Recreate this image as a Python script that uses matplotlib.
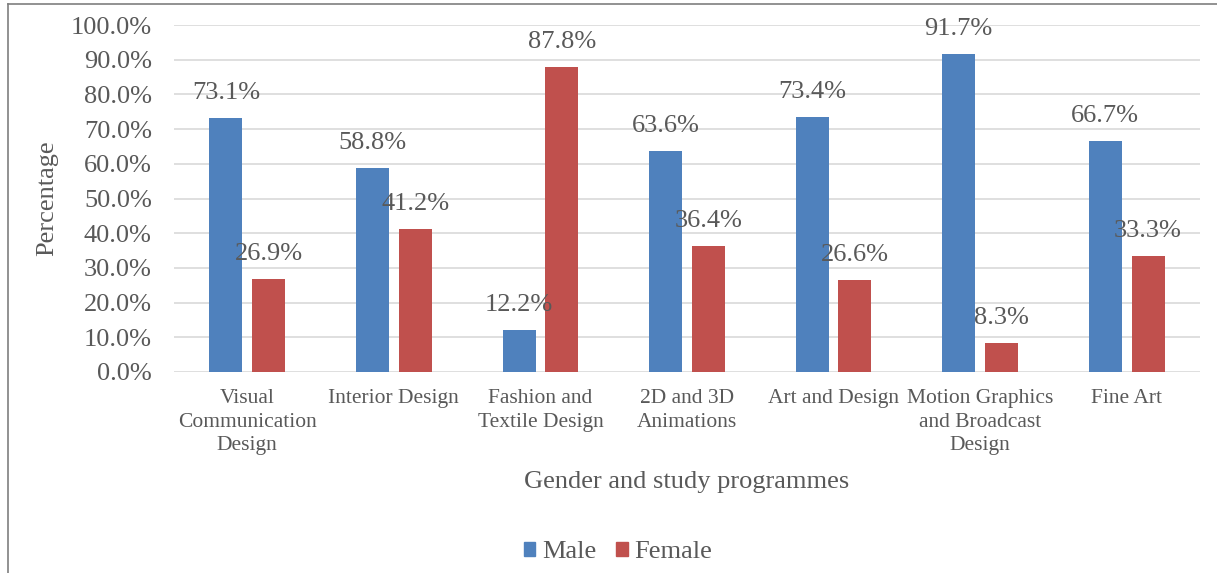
import matplotlib
matplotlib.use("Agg")
import matplotlib.pyplot as plt
import numpy as np
from matplotlib.patches import Patch
from matplotlib.lines import Line2D

# Datos
programmes = ["Visual\nCommunication\nDesign", "Interior Design",
              "Fashion and\nTextile Design", "2D and 3D\nAnimations",
              "Art and Design", "Motion Graphics\nand Broadcast\nDesign", "Fine Art"]
male = [73.1, 58.8, 12.2, 63.6, 73.4, 91.7, 66.7]
female = [26.9, 41.2, 87.8, 36.4, 26.6, 8.3, 33.3]
series_names = ["Male", "Female"]

blue = "#4F81BD"
red = "#C0504D"
txt = "#595959"
grid = "#D9D9D9"

plt.rcParams['font.family'] = ['Liberation Serif', 'DejaVu Serif']

W, H = 1217, 573
fig = plt.figure(figsize=(W / 100, H / 100), dpi=100)
ax = fig.add_axes([174 / W, 201 / H, 1026 / W, 347 / H])

x = np.arange(len(programmes))
w = 0.225
off = 0.146
b1 = ax.bar(x - off, male, w, color=blue)
b2 = ax.bar(x + off, female, w, color=red)

# Etiquetas de datos
for bars, vals in ((b1, male), (b2, female)):
    for b, v in zip(bars, vals):
        ax.annotate(f"{v:.1f}%", (b.get_x() + b.get_width() / 2, v),
                    xytext=(0, 25), textcoords="offset pixels",
                    ha="center", va="center", fontsize=19, color=txt)

ax.set_xlim(-0.5, len(programmes) - 0.5)
ax.set_ylim(0, 100)
ax.set_yticks(np.arange(0, 101, 10))
ax.set_yticklabels([f"{t:.1f}%" for t in np.arange(0, 101, 10)])
ax.set_xticks(x)
ax.set_xticklabels(programmes, linespacing=1.32)
ax.tick_params(axis="y", length=0, pad=16, labelsize=19, labelcolor=txt)
ax.tick_params(axis="x", length=0, pad=12.5, labelsize=15.5, labelcolor=txt)
for s in ax.spines.values():
    s.set_visible(False)
ax.yaxis.grid(True, color=grid, linewidth=1.2)
ax.set_axisbelow(True)

fig.text(0.5 * (174 + 1200) / W, 1 - 482 / H, "Gender and study programmes",
         ha="center", va="center", fontsize=19, color=txt)
fig.text(47 / W, 1 - 198 / H, "Percentage", rotation=90,
         ha="center", va="center", fontsize=19, color=txt)

handles = [Patch(color=blue), Patch(color=red)]
leg = fig.legend(handles, series_names, loc="center", ncol=2,
                 bbox_to_anchor=(618 / W, 1 - 552 / H), frameon=False,
                 fontsize=19, handlelength=0.45, handleheight=0.45,
                 handletextpad=0.25, columnspacing=0.75, labelcolor=txt)

# Borde de la figura
fig.add_artist(Line2D([8 / W, 8 / W], [0, 1 - 4 / H], transform=fig.transFigure,
                      color="#7F7F7F", linewidth=1.2))
fig.add_artist(Line2D([8 / W, 1], [1 - 4 / H, 1 - 4 / H], transform=fig.transFigure,
                      color="#7F7F7F", linewidth=1.2))

fig.savefig("out.png", dpi=100)
